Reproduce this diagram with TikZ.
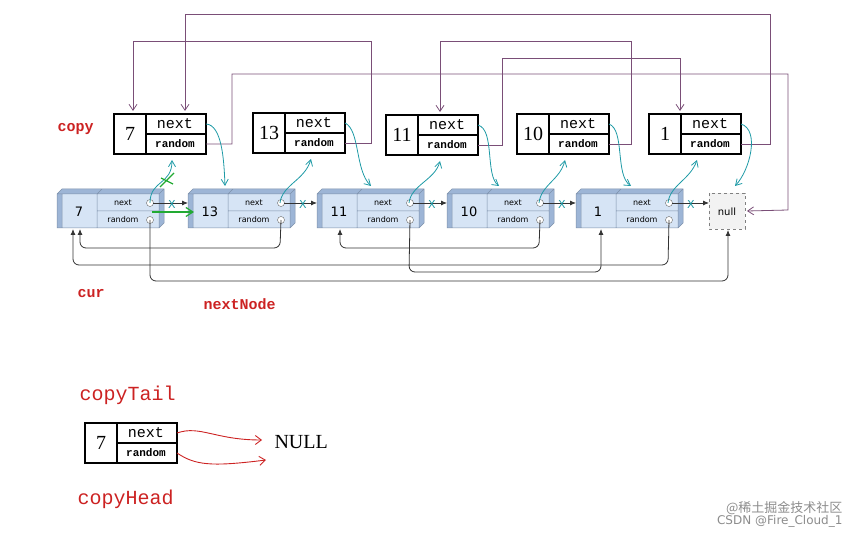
\documentclass[tikz,border=0pt]{standalone}
\usepackage{fontspec}
\setmainfont{Liberation Serif}
\newfontfamily\monof{Liberation Mono}
\newfontfamily\sansf{DejaVu Sans}
\newfontfamily\cjk{Noto Sans CJK SC}
\usetikzlibrary{arrows.meta}
\definecolor{pur}{HTML}{7A4E77}
\definecolor{cy}{HTML}{1E9AA6}
\definecolor{rd}{HTML}{CC2222}
\definecolor{gr}{HTML}{22AA33}
\definecolor{nb}{HTML}{D6E4F5}
\definecolor{nbd}{HTML}{9DB5D6}
\tikzset{
  pl/.style={pur,line width=0.8pt,-{Straight Barb[length=6pt,width=8pt]}},
  cyl/.style={cy,line width=0.8pt,-{Straight Barb[length=6pt,width=7pt]}},
  bl/.style={black!80,line width=0.8pt,rounded corners=6pt,-{Latex[length=6pt,width=5pt]}},
  nx/.style={black!80,line width=0.8pt,-{Latex[length=6pt,width=5pt]}},
  lab/.style={rd,font=\monof\bfseries\fontsize{15}{15}\selectfont,anchor=west},
  xm/.style={cy,font=\sansf\fontsize{11}{11}\selectfont,inner sep=0}
}
\newcommand\cbox[4]{% name, x, top y, value
  \draw[line width=2.4pt] (#2,#3) rectangle ++(92,40);
  \draw[line width=2.4pt] (#2+32,#3) -- (#2+32,#3+40) (#2+32,#3+20) -- (#2+92,#3+20);
  \node[font=\fontsize{20}{20}\selectfont] (#1v) at (#2+16,#3+20) {#4};
  \node[font=\monof\fontsize{15}{15}\selectfont] (#1n) at (#2+61,#3+10) {next};
  \node[font=\monof\bfseries\fontsize{11}{11}\selectfont] (#1r) at (#2+61,#3+30) {random};
  \coordinate (#1N) at (#2+92,#3+10);
  \coordinate (#1R) at (#2+92,#3+30);
}
\newcommand\lnode[3]{% name, x, value
  \fill[nbd] (#2,228) -- (#2,194) -- (#2+5,189) -- (#2+107,189) -- (#2+107,223) -- (#2+102,228) -- cycle;
  \fill[nb] (#2+5,194) rectangle (#2+102,228);
  \draw[nbd!80!black,line width=0.5pt] (#2,194) rectangle (#2+102,228) (#2+5,194) -- (#2+5,228)
     (#2,194) -- (#2+5,189) -- (#2+107,189) -- (#2+107,223) -- (#2+102,228) (#2+102,194) -- (#2+107,189)
     (#2+40,194) -- (#2+40,228) (#2+40,211) -- (#2+102,211) (#2+40,194) -- (#2+45,189);
  \node[font=\sansf\fontsize{13}{13}\selectfont] (#1v) at (#2+22,212) {#3};
  \node[font=\sansf\fontsize{8}{8}\selectfont] at (#2+66,203) {next};
  \node[font=\sansf\fontsize{8}{8}\selectfont] at (#2+66,220) {random};
  \draw[black!60,fill=white] (#2+93,203) circle (3.5pt) (#2+93,220) circle (3.5pt);
  \coordinate (#1N) at (#2+96,203);
  \coordinate (#1R) at (#2+93,220);
  \coordinate (#1L) at (#2,203);
}
\begin{document}
\begin{tikzpicture}[x=1pt,y=-1pt]
\useasboundingbox (0,0) rectangle (860,537);
% copy boxes
\cbox{c7}{114}{114}{7}
\cbox{c13}{253}{113}{13}
\cbox{c11}{386}{115}{11}
\cbox{c10}{517}{114}{10}
\cbox{c1}{649}{114}{1}
% bottom list
\lnode{n7}{57}{7}
\lnode{n13}{188}{13}
\lnode{n11}{317}{11}
\lnode{n10}{447}{10}
\lnode{n1}{576}{1}
\draw[black!50,dashed,fill=black!5] (709,193) rectangle (745,229);
\node[font=\sansf\fontsize{10}{10}\selectfont] (null) at (727,212) {null};
\coordinate (nullB) at (728,230);
\coordinate (nullR) at (747,211);
\coordinate (nullL) at (709,203);
% next arrows
\draw[nx] (n7N) -- (n13L);
\draw[nx] (n13N) -- (n11L);
\draw[nx] (n11N) -- (n10L);
\draw[nx] (n10N) -- (n1L);
\draw[nx] (n1N) -- (nullL);
\foreach \x in {172,303,432,562,691}{\node[xm] at (\x,204) {X};}
% random bottom arrows
\draw[bl] (n13R) -- (280,248) -- (80,248) -- (80,229);
\draw[bl] (n1R) -- (668,265) -- (73,265) -- (73,229);
\draw[bl] (n7R) -- (150,281) -- (728,281) -- (nullB);
\draw[bl] (n11R) -- (409,272) -- (601,272) -- (601,229);
\draw[bl] (n10R) -- (539,248) -- (340,248) -- (340,229);
% purple random of copies
\draw[pl] (c7R) -- (232,144) -- (232,74) -- (788,74) -- (788,210) -- (nullR);
\draw[pl] (c13R) -- (371,143) -- (371,41) -- (133,41) -- (133,111);
\draw[pl] (c11R) -- (502,145) -- (502,58) -- (680,58) -- (680,111);
\draw[pl] (c10R) -- (631,144) -- (631,41) -- (440,41) -- (440,112);
\draw[pl] (c1R) -- (770,144) -- (770,14) -- (185,14) -- (185,111);
% cyan copy next -> original next
\draw[cyl] (c7N) .. controls (222,125) and (224,160) .. (225,186);
\draw[cyl] (c13N) .. controls (360,130) and (355,170) .. (371,186);
\draw[cyl] (c11N) .. controls (495,130) and (485,175) .. (499,186);
\draw[cyl] (c10N) .. controls (625,130) and (615,175) .. (631,186);
\draw[cyl] (c1N) .. controls (760,130) and (750,170) .. (735,186);
% cyan original next -> copy
\draw[cyl] (150,203) .. controls (150,180) and (172,185) .. (172,160);
\draw[cyl] (280,203) .. controls (282,185) and (305,180) .. (311,159);
\draw[cyl] (409,203) .. controls (411,185) and (435,180) .. (440,161);
\draw[cyl] (539,203) .. controls (541,185) and (560,180) .. (565,160);
\draw[cyl] (668,203) .. controls (670,185) and (690,180) .. (697,160);
% green
\draw[gr,line width=1.2pt] (160,187) -- (174,173) (161,178) -- (173,184);
\draw[gr,line width=1.2pt,-{Straight Barb[length=7pt,width=9pt]}] (152,212) -- (194,212);
% labels
\node[lab] (copy) at (54,129) {copy};
\node[lab] (cur) at (74,294) {cur};
\node[lab] (nextNode) at (200,304) {nextNode};
\node[lab,font=\monof\fontsize{20}{20}\selectfont] (ct) at (76,395) {copyTail};
\node[lab,font=\monof\fontsize{20}{20}\selectfont] (ch) at (74,499) {copyHead};
% bottom box
\cbox{cc}{85}{423}{7}
\node[font=\fontsize{20}{20}\selectfont,anchor=west] (NULL) at (271,442) {NULL};
\draw[rd,line width=0.9pt,-{Straight Barb[length=6pt,width=9pt]}] (ccN) .. controls (200,425) and (215,440) .. (262,440);
\draw[rd,line width=0.9pt,-{Straight Barb[length=6pt,width=9pt]}] (ccR) .. controls (195,465) and (210,467) .. (266,460);
% watermark
\node[black!45,font=\cjk\fontsize{13}{13}\selectfont,anchor=east] (wm1) at (846,508) {@稀土掘金技术社区};
\node[black!45,font=\sansf\fontsize{12}{12}\selectfont,anchor=east] (wm2) at (846,521) {CSDN @Fire\_Cloud\_1};
\end{tikzpicture}
\end{document}
